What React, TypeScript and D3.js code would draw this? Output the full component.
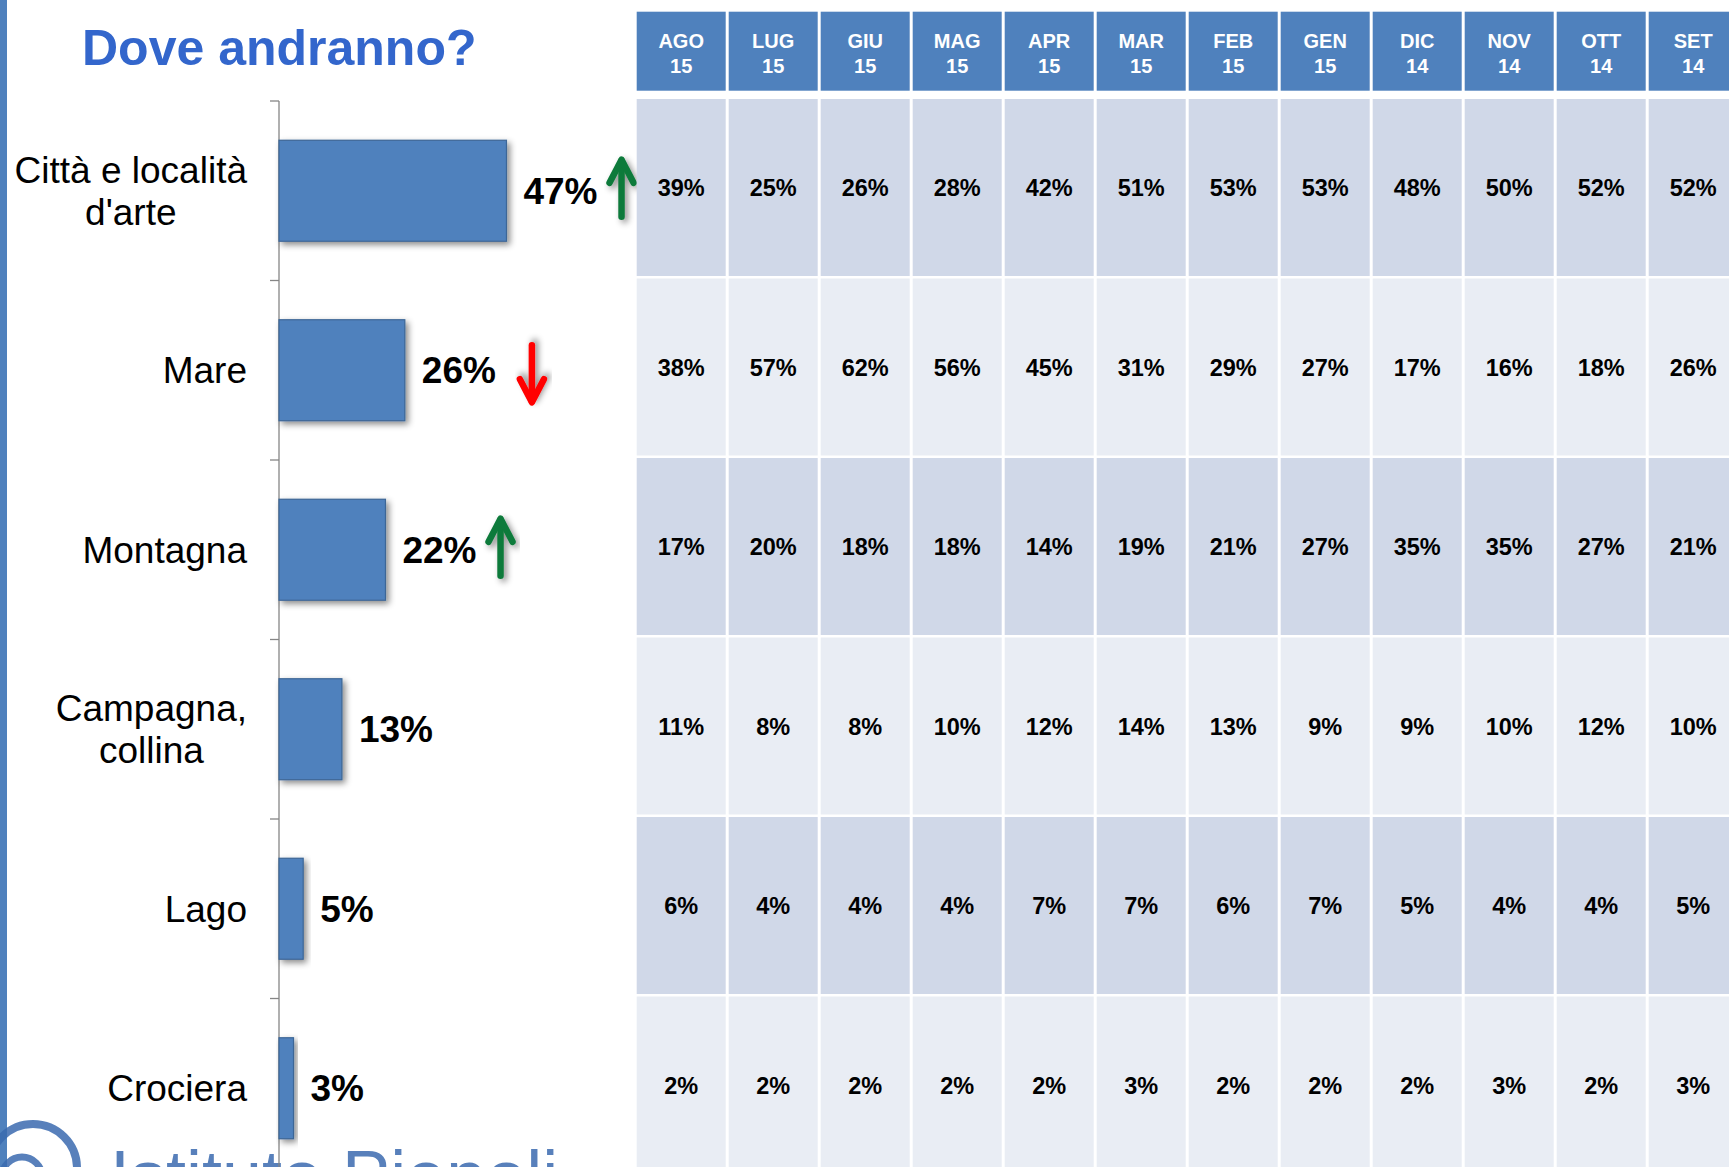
import React from "react";
import * as d3 from "d3";

const W = 1729;
const H = 1167;
const FONT = "'Liberation Sans', Arial, Helvetica, sans-serif";

// categorie e valori attuali (AGO 15)
const categories = ["Città e località\nd'arte", "Mare", "Montagna", "Campagna,\ncollina", "Lago", "Crociera"];
const current = [47, 26, 22, 13, 5, 3];
const trend = ["up", "down", "up", "", "", ""];

// intestazioni tabella
const months = ["AGO", "LUG", "GIU", "MAG", "APR", "MAR", "FEB", "GEN", "DIC", "NOV", "OTT", "SET"];
const years = ["15", "15", "15", "15", "15", "15", "15", "15", "14", "14", "14", "14"];

// storico per categoria
const citta = [39, 25, 26, 28, 42, 51, 53, 53, 48, 50, 52, 52];
const mare = [38, 57, 62, 56, 45, 31, 29, 27, 17, 16, 18, 26];
const montagna = [17, 20, 18, 18, 14, 19, 21, 27, 35, 35, 27, 21];
const campagna = [11, 8, 8, 10, 12, 14, 13, 9, 9, 10, 12, 10];
const lago = [6, 4, 4, 4, 7, 7, 6, 7, 5, 4, 4, 5];
const crociera = [2, 2, 2, 2, 2, 3, 2, 2, 2, 3, 2, 3];
const history = [citta, mare, montagna, campagna, lago, crociera];

const axisX = 279;
const step = 179.5;

let ctx: CanvasRenderingContext2D | null = null;
function measure(text: string, font: string) {
  if (!ctx) ctx = document.createElement("canvas").getContext("2d");
  if (!ctx) return text.length * 18;
  ctx.font = font;
  return ctx.measureText(text).width;
}

export default function App() {
  const x = d3.scaleLinear().domain([0, 50]).range([axisX, axisX + 242]);
  const y = d3.scaleBand<string>().domain(categories).range([101, 101 + categories.length * step]);
  const barH = 101;

  const col = d3.scaleBand<string>()
    .domain(months)
    .range([636.7, 636.7 + months.length * 92 - 3])
    .paddingInner(3 / 92);
  const row = d3.scaleBand<string>()
    .domain(categories)
    .range([99, 99 + categories.length * step - 2.5])
    .paddingInner(2.5 / step);

  const labelFont = `37px ${FONT}`;
  const valueFont = `bold 37px ${FONT}`;

  return (
    <svg width={W} height={H} style={{ position: "absolute", left: 0, top: 0, background: "#fff" }}
      fontFamily={FONT}>
      <defs>
        <filter id="shadow" x="-20%" y="-20%" width="150%" height="150%">
          <feDropShadow dx="3" dy="3" stdDeviation="3" floodColor="#000" floodOpacity="0.45" />
        </filter>
      </defs>

      {/* striscia laterale */}
      <rect x={0} y={0} width={7} height={H} fill="#4F81BD" />

      {/* logo sullo sfondo */}
      <g opacity={0.85}>
        <circle cx={33} cy={1168} r={44} fill="none" stroke="#3B6BB0" strokeWidth={8} />
        <circle cx={22} cy={1177} r={20} fill="none" stroke="#3B6BB0" strokeWidth={7} />
        <text x={110} y={1201} fontSize={72} fill="#3B6BB0">Istituto Piepoli</text>
      </g>

      {/* titolo */}
      <text x={82} y={65} fontSize={50} fontWeight="bold" fill="#3366CC">Dove andranno?</text>

      {/* asse verticale */}
      <line x1={axisX} x2={axisX} y1={101} y2={H} stroke="#868686" strokeWidth={1.3} />
      {categories.map((c) => (
        <line key={"t" + c} x1={axisX - 9} x2={axisX} y1={y(c)!} y2={y(c)!} stroke="#868686" strokeWidth={1.3} />
      ))}

      {categories.map((c, i) => {
        const cy = y(c)! + y.bandwidth() / 2;
        const lines = c.split("\n");
        const maxW = d3.max(lines, (l) => measure(l, labelFont)) || 0;
        const right = 247;
        const lh = 42;
        const endX = x(current[i]);
        const valText = `${current[i]}%`;
        const valX = endX + 17;
        const valW = measure(valText, valueFont);
        const t = trend[i];
        const ax = valX + valW + (t === "down" ? 36 : 24);
        return (
          <g key={c}>
            {lines.map((l, k) => (
              <text
                key={k}
                x={lines.length > 1 ? right - maxW / 2 : right}
                y={cy + 13 + (k - (lines.length - 1) / 2) * lh}
                fontSize={37}
                textAnchor={lines.length > 1 ? "middle" : "end"}
                fill="#000"
              >
                {l}
              </text>
            ))}
            <rect
              x={axisX}
              y={cy - barH / 2}
              width={endX - axisX}
              height={barH}
              fill="#4F81BD"
              stroke="#3C6696"
              strokeWidth={1.2}
              filter="url(#shadow)"
            />
            <text x={valX} y={cy + 13} fontSize={37} fontWeight="bold" fill="#000">{valText}</text>
            {t && (
              <g
                filter="url(#shadow)"
                stroke={t === "up" ? "#0B7A3A" : "#FF0000"}
                strokeWidth={6.5}
                fill="none"
                strokeLinecap="round"
                strokeLinejoin="round"
                transform={`translate(${ax},${cy + (t === "down" ? 3 : -2)}) ${t === "down" ? "scale(1,-1)" : ""}`}
              >
                <line x1={0} x2={0} y1={28} y2={-28} />
                <polyline points="-12,-6 0,-29 12,-6" />
              </g>
            )}
          </g>
        );
      })}

      {/* tabella storico */}
      {months.map((m, j) => (
        <g key={m}>
          <rect x={col(m)!} y={11.7} width={col.bandwidth()} height={79} fill="#4F81BD" />
          <text x={col(m)! + col.bandwidth() / 2} y={47.7} fontSize={20} fontWeight="bold" fill="#fff" textAnchor="middle">{m}</text>
          <text x={col(m)! + col.bandwidth() / 2} y={73.3} fontSize={20} fontWeight="bold" fill="#fff" textAnchor="middle">{years[j]}</text>
          {categories.map((c, i) => (
            <g key={c}>
              <rect x={col(m)!} y={row(c)!} width={col.bandwidth()} height={row.bandwidth()} fill={i % 2 === 0 ? "#D0D8E8" : "#E9EDF4"} />
              <text
                x={col(m)! + col.bandwidth() / 2}
                y={row(c)! + row.bandwidth() / 2 + 8.5}
                fontSize={23.5}
                fontWeight="bold"
                fill="#000"
                textAnchor="middle"
              >
                {history[i][j]}%
              </text>
            </g>
          ))}
        </g>
      ))}
    </svg>
  );
}
